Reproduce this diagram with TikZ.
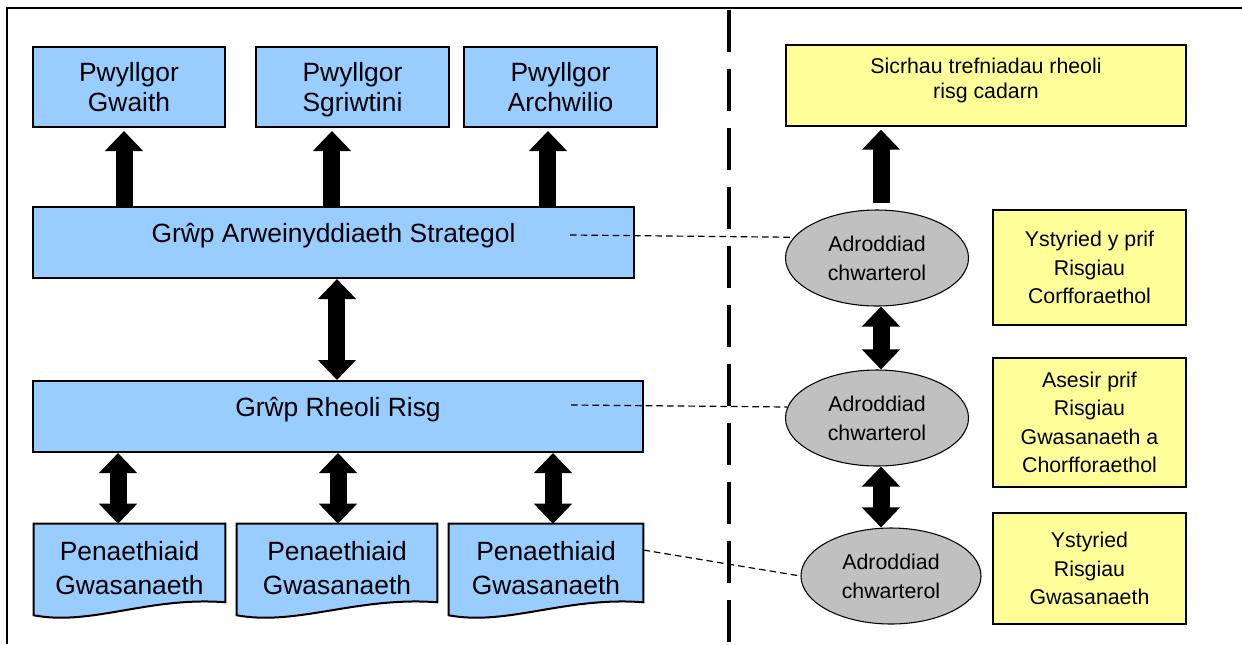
\documentclass[tikz,border=0pt]{standalone}
\usepackage{fontspec}
\setmainfont{Liberation Sans}
\usetikzlibrary{arrows.meta,shapes.geometric,calc}
\pgfdeclarelayer{bg}
\pgfsetlayers{bg,main}
\definecolor{boxblue}{HTML}{99CCFF}
\definecolor{boxyellow}{HTML}{FFFF99}
\definecolor{ellgray}{HTML}{C0C0C0}
\tikzset{
 bluebox/.style={draw=black, line width=1.5pt, fill=boxblue, align=center, font=\fontsize{19.8}{22.5}\selectfont, inner sep=0pt},
 bigtext/.style={font=\fontsize{19.8}{22.5}\selectfont, inner sep=0pt, align=center},
 smalltext/.style={font=\fontsize{16}{18.75}\selectfont, inner sep=0pt, align=center},
 docnode/.style={align=center, font=\fontsize{19.8}{26}\selectfont, inner sep=0pt},
 docline/.style={draw=black, line width=1.5pt, fill=boxblue},
 yellowbox/.style={draw=black, line width=1.1pt, fill=boxyellow, align=center, font=\fontsize{16}{21.4}\selectfont, inner sep=0pt},
 report/.style={ellipse, draw=black, line width=0.8pt, fill=ellgray, align=center, font=\fontsize{16}{21.75}\selectfont, inner sep=0pt, minimum height=72pt},
 bigarrow/.style={line width=12.75pt, -{Triangle[width=27.75pt,length=15pt]}},
 bigdouble/.style={line width=12.75pt, {Triangle[width=27.75pt,length=15pt]}-{Triangle[width=27.75pt,length=15pt]}},
 linkline/.style={line width=0.9pt, dash pattern=on 5pt off 3pt},
 divider/.style={line width=3pt, dash pattern=on 31.5pt off 12.75pt},
 frameline/.style={line width=1.5pt}
}
\begin{document}
\begin{tikzpicture}[x=0.75pt, y=-0.75pt]
\useasboundingbox (0,0) rectangle (1242,644);
% frame and divider
\draw[frameline] (7,644) -- (7,8) -- (1242,8);
\draw[divider] (729,10) -- (729,644);

% left side
\node[bluebox, minimum width=144pt, minimum height=60pt,
  label={[bigtext, yshift=-2.25pt]center:Pwyllgor\\Gwaith\vphantom{g}}] (gw) at (129,87) {};
\node[bluebox, minimum width=144.75pt, minimum height=60pt,
  label={[bigtext, yshift=-2.25pt]center:Pwyllgor\\Sgriwtini}] (sg) at (352.5,87) {};
\node[bluebox, minimum width=144.75pt, minimum height=60pt,
  label={[bigtext, yshift=-2.25pt]center:Pwyllgor\\Archwilio\vphantom{g}}] (ar) at (560.5,87) {};
\node[bluebox, minimum width=450.75pt, minimum height=53.25pt,
  label={[bigtext, yshift=5pt]center:Grŵp Arweinyddiaeth Strategol}] (strat) at (333.5,242.5) {};
\node[bluebox, minimum width=457.5pt, minimum height=53.25pt,
  label={[bigtext, yshift=5pt]center:Grŵp Rheoli Risg}] (rheoli) at (338,416.5) {};

\node[docnode, minimum width=143.25pt, minimum height=66pt] (p1) at (129.5,568) {Penaethiaid\\Gwasanaeth};
\node[docnode, minimum width=150pt, minimum height=66pt] (p2) at (337,568) {Penaethiaid\\Gwasanaeth};
\node[docnode, minimum width=145.5pt, minimum height=66pt] (p3) at (546,568) {Penaethiaid\\Gwasanaeth};
\begin{pgfonlayer}{bg}
\foreach \p in {p1,p2,p3}
  \draw[docline] (\p.north west) -- (\p.north east) -- ($(\p.south east)+(0,-10)$)
    .. controls ($(\p.south west)!0.6!(\p.south east)+(0,-16)$) and ($(\p.south west)!0.3!(\p.south east)+(0,14)$)
    .. ($(\p.south west)+(0,3)$) -- cycle;
\end{pgfonlayer}

% right side
\node[yellowbox, minimum width=300pt, minimum height=60.75pt,
  label={[smalltext, yshift=4pt]center:Sicrhau trefniadau rheoli\\risg cadarn}] (sic) at (986,85.5) {};
\node[report, minimum width=137.25pt] (e1) at (877,258) {Adroddiad\\chwarterol};
\node[report, minimum width=137.25pt] (e2) at (877,418) {Adroddiad\\chwarterol};
\node[report, minimum width=135pt] (e3) at (891,576) {Adroddiad\\chwarterol};
\node[yellowbox, minimum width=144.75pt, minimum height=86.25pt] (y1) at (1089.5,267.5) {Ystyried y prif\\Risgiau\\Corfforaethol};
\node[yellowbox, minimum width=144.75pt, minimum height=96.75pt] (y2) at (1089.5,422.5) {Asesir prif\\Risgiau\\Gwasanaeth a\\Chorfforaethol};
\node[yellowbox, minimum width=144.75pt, minimum height=83.25pt] (y3) at (1089.5,568.5) {Ystyried\\Risgiau\\Gwasanaeth};

% arrows left
\coordinate (a1) at ([xshift=-3.75pt]gw.south);
\coordinate (a2) at ([xshift=-15.4pt]sg.south);
\coordinate (a3) at ([xshift=-9.4pt]ar.south);
\foreach \a in {a1,a2,a3}
  \draw[bigarrow] (\a |- strat.north) -- ([yshift=-2.25pt]\a);
\coordinate (m1) at ([xshift=2.6pt]strat.south);
\draw[bigdouble] (m1) -- (m1 |- rheoli.north);
\coordinate (b1) at ([xshift=-8.6pt]p1.north);
\coordinate (b2) at ([xshift=0.75pt]p2.north);
\coordinate (b3) at ([xshift=5.25pt]p3.north);
\foreach \b in {b1,b2,b3}
  \draw[bigdouble] (\b |- rheoli.south) -- (\b);

% arrows right
\coordinate (r1) at ([xshift=3pt,yshift=4.5pt]e1.north);
\draw[bigarrow] (r1) -- ([yshift=-2.25pt]r1 |- sic.south);
\coordinate (r2) at ([xshift=3pt]e1.south);
\draw[bigdouble] (r2) -- (r2 |- e2.north);
\coordinate (r3) at ([xshift=3pt]e2.south);
\draw[bigdouble] (r3) -- (r3 |- e3.north);

% dashed links
\coordinate (d1) at ($(strat.east)+(-65,-7.5)$);
\draw[linkline] (d1) -- (e1.166);
\coordinate (d2) at ($(rheoli.east)+(-73,-11.5)$);
\draw[linkline] (d2) -- (e2.173);
\draw[linkline] ([yshift=13.5pt]p3.east) -- (e3.west);
\end{tikzpicture}
\end{document}
